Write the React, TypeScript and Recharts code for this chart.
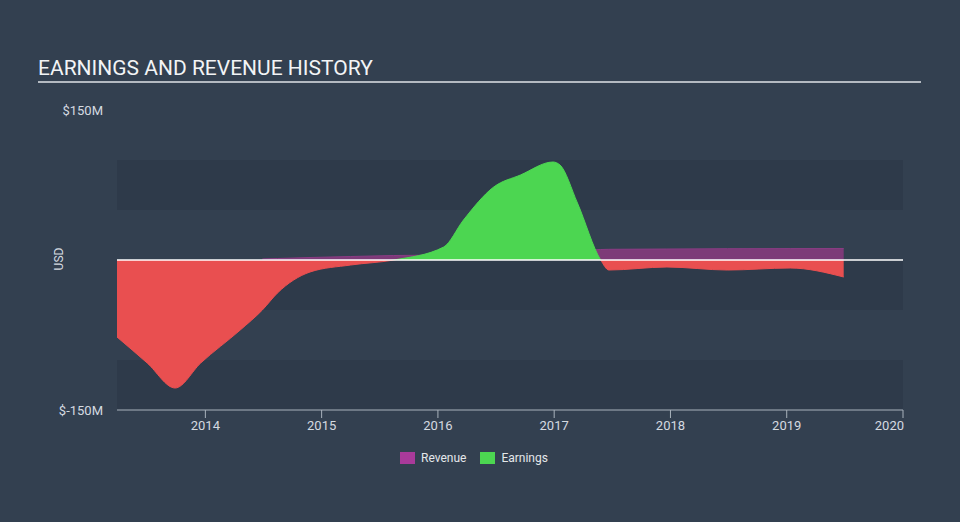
import React from 'react';
import { ComposedChart, Area, XAxis, YAxis, ReferenceArea, ReferenceLine } from 'recharts';

// (USD millions)
const years = [
  2013.24, 2013.5, 2013.74, 2013.96, 2014.3, 2014.49, 2014.62, 2014.9, 2015.25, 2015.62,
  2016.05, 2016.22, 2016.48, 2016.71, 2016.99, 2017.05, 2017.2, 2017.4, 2017.47, 2017.97,
  2018.49, 2019.03, 2019.49,
];
const earnings = [
  -77, -103, -128, -103, -70, -50, -33, -12, -5, 0,
  13, 40, 73, 85, 98, 95, 57, 0, -10, -7,
  -10, -8, -17,
];
const revenue = [
  null, null, null, null, null, 1, 1.5, 2.5, 3.5, 4.5,
  5, 5.5, 6, 7, 8, 8.5, 9.5, 10.5, 10.7, 11,
  11.3, 11.4, 11.5,
];
const yearTicks = [2014, 2015, 2016, 2017, 2018, 2019, 2020];
const valueTicks = [-150, 150];
const bandLows = [50, -50, -150];

const rows = years.map((year, i) => ({ year, earnings: earnings[i], revenue: revenue[i] }));

const FONT = 'Roboto, "Noto Sans", sans-serif';
const BG = '#334050';
const BAND = '#2e3a4a';
const AXIS = '#a9b2bc';
const TEXT = '#d5dae0';

// last tick label is pulled inside the plot edge, like the original
const YearTick = (props: any) => {
  const { x, y, payload } = props;
  const last = payload.value === yearTicks[yearTicks.length - 1];
  return (
    <text
      x={last ? x + 1 : x}
      y={y}
      dy="0.71em"
      textAnchor={last ? 'end' : 'middle'}
      fill={TEXT}
      fontSize={13}
      fontFamily={FONT}
    >
      {payload.value}
    </text>
  );
};

export default function App() {
  return (
    <div
      style={{
        position: 'absolute',
        left: 0,
        top: 0,
        width: 960,
        height: 522,
        background: BG,
        fontFamily: FONT,
        overflow: 'hidden',
      }}
    >
      <div
        style={{
          position: 'absolute',
          left: 38,
          top: 58,
          fontSize: 21,
          lineHeight: 1,
          color: '#f2f4f6',
          whiteSpace: 'nowrap',
        }}
      >
        EARNINGS AND REVENUE HISTORY
      </div>
      <div style={{ position: 'absolute', left: 38, top: 81, width: 883, height: 2, background: '#b4bac1' }} />
      <div
        style={{
          position: 'absolute',
          left: 59,
          top: 259,
          transform: 'translate(-50%, -50%) rotate(-90deg)',
          fontSize: 12,
          color: TEXT,
        }}
      >
        USD
      </div>

      <ComposedChart
        width={960}
        height={522}
        data={rows}
        margin={{ top: 110, right: 57, bottom: 82, left: 57 }}
        style={{ position: 'absolute', left: 0, top: 0 }}
      >
        <defs>
          <linearGradient id="earnFill" gradientUnits="userSpaceOnUse" x1="0" y1="110" x2="0" y2="410">
            <stop offset="0.5" stopColor="#4cd651" />
            <stop offset="0.5" stopColor="#e94f50" />
          </linearGradient>
        </defs>
        {bandLows.map((low) => (
          <ReferenceArea key={low} y1={low} y2={low + 50} fill={BAND} fillOpacity={1} stroke="none" />
        ))}
        <XAxis
          dataKey="year"
          type="number"
          domain={[2013.24, 2020]}
          allowDataOverflow
          ticks={yearTicks}
          height={30}
          stroke={AXIS}
          tickSize={8}
          tickMargin={3}
          tick={<YearTick />}
        />
        <YAxis
          type="number"
          domain={[-150, 150]}
          allowDataOverflow
          ticks={valueTicks}
          width={60}
          axisLine={false}
          tickLine={false}
          tickMargin={8}
          tickFormatter={(v: number) => `$${v}M`}
          tick={{ fill: TEXT, fontSize: 13, fontFamily: FONT }}
        />
        <Area
          type="monotone"
          dataKey="revenue"
          baseValue={0}
          fill="#7d3a78"
          fillOpacity={1}
          stroke="#8a3c84"
          strokeWidth={1}
          isAnimationActive={false}
        />
        <Area
          type="monotone"
          dataKey="earnings"
          baseValue={0}
          fill="url(#earnFill)"
          fillOpacity={1}
          stroke="url(#earnFill)"
          strokeWidth={1}
          isAnimationActive={false}
        />
        <ReferenceLine y={0} stroke="#ffffff" strokeWidth={1.5} />
      </ComposedChart>

      <div
        style={{
          position: 'absolute',
          left: 400,
          top: 451,
          display: 'flex',
          alignItems: 'center',
          fontSize: 12,
          color: '#e4e7ea',
        }}
      >
        <span style={{ width: 15, height: 12, background: '#a93a9a', display: 'inline-block', marginRight: 6 }} />
        <span style={{ marginRight: 14 }}>Revenue</span>
        <span style={{ width: 15, height: 12, background: '#4cd651', display: 'inline-block', marginRight: 6 }} />
        <span>Earnings</span>
      </div>
    </div>
  );
}
